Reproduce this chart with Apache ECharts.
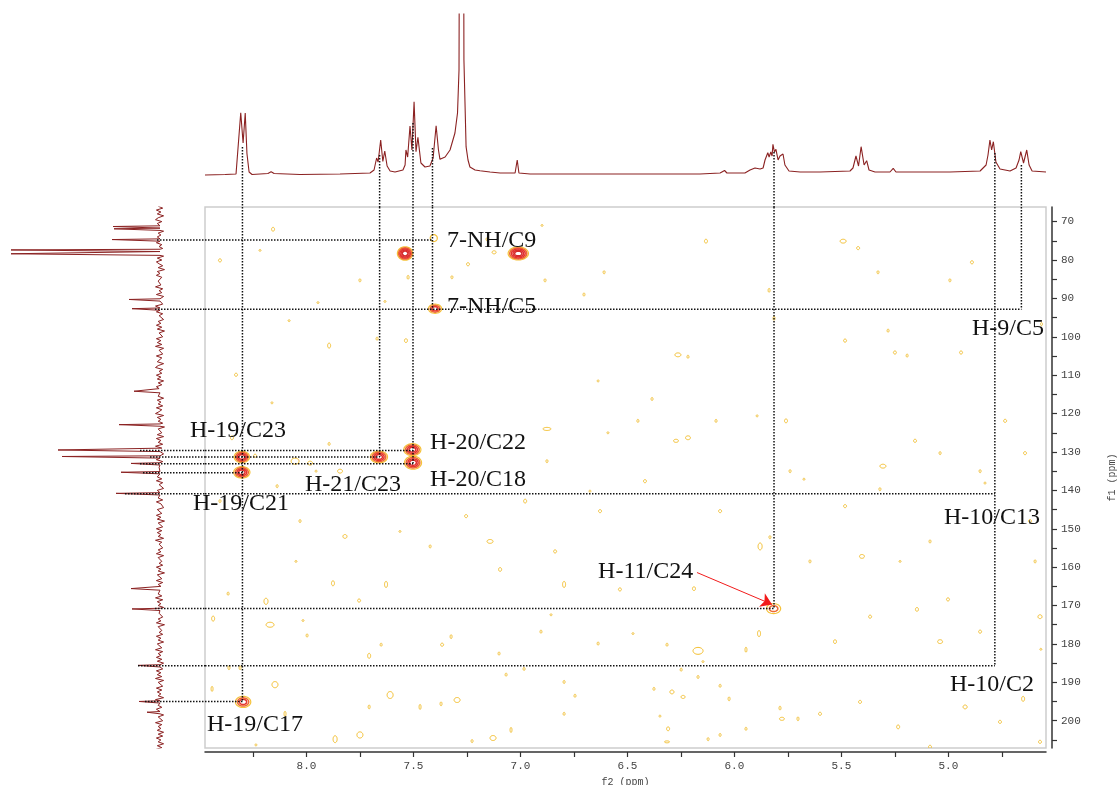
<!DOCTYPE html>
<html><head><meta charset="utf-8">
<script src="https://cdn.jsdelivr.net/npm/echarts@6/dist/echarts.min.js"></script>
<style>html,body{margin:0;padding:0;background:#fff}#c{width:1118px;height:785px}</style>
</head><body><div id="c"></div>
<script>
// ---------- axis ranges & ticks ----------
const f2Range = [4.544, 8.474];      // 1H (ppm)
const f1Range = [66.2, 207.1];       // 13C (ppm)
const xTicks = [8.25, 8.0, 7.75, 7.5, 7.25, 7.0, 6.75, 6.5, 6.25, 6.0, 5.75, 5.5, 5.25, 5.0, 4.75];
const xTickLabels = [8.0, 7.5, 7.0, 6.5, 6.0, 5.5, 5.0];
const yTicks = [70,75,80,85,90,95,100,105,110,115,120,125,130,135,140,145,150,155,160,165,170,175,180,185,190,195,200,205];
const yTickLabels = [70,80,90,100,110,120,130,140,150,160,170,180,190,200];

// ---------- 1H projection trace [ppm, intensity] ----------
const h1Trace = [
[8.474,-1.5],[8.380,-1],[8.329,-0.5],[8.320,1.5],[8.307,60.7],[8.296,30.5],[8.286,60.5],[8.278,20],[8.268,1.5],[8.254,-1],
[8.180,0],[8.165,1.7],[8.151,0],[8.030,-1],[7.843,-0.5],[7.703,0.5],[7.684,3.5],[7.672,15.5],[7.665,11.5],[7.653,33.5],
[7.643,12],[7.634,22.5],[7.623,7.5],[7.609,2.5],[7.586,1.5],[7.549,3.5],[7.539,8.5],[7.535,23.5],[7.527,16.5],[7.516,47.5],
[7.507,23.5],[7.497,71.8],[7.488,21.8],[7.479,36.2],[7.465,10.5],[7.446,6.5],[7.423,7.5],[7.408,15.5],[7.394,47.8],[7.383,23.5],
[7.376,14.2],[7.352,16.5],[7.329,23.5],[7.306,40.5],[7.294,60.5],[7.287,103.5],[7.282,500],[7.268,500],[7.264,113.5],[7.254,26.8],
[7.245,13.5],[7.236,6.5],[7.212,3.5],[7.189,2.8],[7.142,1.5],[7.095,0.5],[7.025,0.5],[7.015,13.5],[7.007,0.5],[6.955,-0.5],
[6.628,-0.5],[6.161,-0.5],[6.067,0.5],[6.046,3],[6.035,0.5],[5.951,0.5],[5.927,3.5],[5.904,5.5],[5.880,4.5],[5.866,5.5],
[5.857,13.5],[5.844,20.8],[5.838,16.5],[5.830,21.5],[5.824,17.5],[5.820,29.2],[5.813,21.5],[5.806,24.2],[5.796,13.5],[5.787,17.5],
[5.773,19.5],[5.764,8.5],[5.756,10.2],[5.745,2.5],[5.693,1.5],[5.600,1.5],[5.460,2.5],[5.446,5.5],[5.432,17.5],[5.420,7.5],
[5.408,26.8],[5.394,8.5],[5.382,12.8],[5.371,3.5],[5.343,1.5],[5.273,1.5],[5.258,5.2],[5.245,1.5],[4.993,1.5],[4.852,2.5],
[4.824,8.5],[4.815,18.5],[4.806,33.5],[4.798,23.5],[4.790,31.8],[4.778,11.5],[4.759,4.5],[4.712,2.5],[4.684,5.5],[4.670,13.5],
[4.662,21.8],[4.649,10.5],[4.634,23.5],[4.623,8.5],[4.609,2.5],[4.544,1.5]
];

// ---------- 13C projection: peaks [ppm, intensity] and baseline noise (0.5 ppm steps from 66 ppm) ----------
const c13Peaks = [
[71.4,47],[72.0,46],[74.8,48],[77.5,149],[78.5,149],[90.4,31],[92.8,28],[114.3,26],[123.0,41],[129.6,102],
[131.3,98],[133.1,29],[135.4,39],[140.9,44],[165.7,29],[171.0,28],[185.7,22],[195.1,21],[197.9,13]
];
const c13Noise = [
2,-3,4,-1,3,-4,2,5,-2,3,-3,1,4,-4,2,-1,3,-5,2,4,-2,1,-3,5,-1,2,-4,3,-2,4,1,-3,2,-5,3,0,4,-2,-4,2,
3,-1,5,-3,1,-2,4,-4,2,3,-1,-3,5,2,-2,4,-3,1,3,-4,2,-1,4,-2,3,-5,1,2,-3,4,-1,3,-2,5,-4,1,2,-3,4,-2,
-1,3,-4,2,5,-3,1,-2,4,-1,3,-4,2,-2,4,1,-3,5,-2,2,-4,3,-1,2,-3,4,-2,1,5,-4,3,-1,2,-3,4,-5,2,1,-2,3,
-4,4,-1,2,-3,5,-2,1,3,-4,2,-1,4,-3,6,-2,1,3,-4,2,-1,3,-2,4,-3,1,2,-4,3,-1,5,-2,2,-3,4,-1,1,-4,3,2,
-2,4,-1,3,-5,2,1,-3,4,-2,3,-1,2,-4,5,-2,1,3,-3,2,-1,4,-4,2,3,-2,1,-3,4,-1,2,-5,3,1,-2,4,-3,2,-1,3,
-4,1,2,-2,5,-3,3,-1,2,-4,4,-2,1,3,-3,2,-1,4,-5,2,3,-2,1,-3,4,-1,2,-4,3,1,-2,5,-3,2,-1,4,-2,3,-4,1,
2,-3,4,-1,3,-2,5,-4,2,1,-3,4,-2,3,-1,2,-4,5,-3,1,2,-2,4,-1,3,-4,2,1,-3,5,-2,2,-1,3,-4,2,
-3,4,-1,2,-4,3,-2,5,-1,3,-4,2,-3,1,4,-2,3,-5,2,-1,4,-3,2,1,-4,3
];

// ---------- HMBC cross peaks [f2 ppm, f1 ppm, width f2, width f1, contour levels] ----------
const crossPeaks = [
[7.539,78.3,0.072,3.5,5],[7.010,78.3,0.095,3.4,5],[8.302,131.3,0.072,3.0,4],[7.661,131.3,0.080,3.1,4],
[7.505,129.4,0.080,3.1,4],[7.502,132.8,0.080,3.4,4],[8.302,135.3,0.076,3.0,4],[7.399,92.7,0.062,2.4,3],
[7.405,74.3,0.033,1.8,1],[5.817,170.8,0.066,2.6,2],[8.296,195.1,0.072,2.9,3]
];
// weak noise contours [f2 ppm, f1 ppm, width f2, width f1]
const noiseContours = [
[8.156,72.0,0.014,1.0],[7.876,164.2,0.014,1.3],[7.628,164.5,0.014,1.6],[6.796,164.5,0.014,1.6],[6.535,165.8,0.014,0.8],
[6.189,165.6,0.014,1.0],[7.754,168.7,0.014,0.8],[8.436,173.4,0.014,1.3],[8.170,175.0,0.037,1.3],[8.016,173.9,0.009,0.5],
[7.997,177.8,0.009,0.8],[6.857,172.4,0.009,0.5],[5.885,177.3,0.014,1.6],[5.946,181.5,0.009,1.3],[6.170,181.8,0.047,1.8],
[7.324,178.1,0.009,1.0],[7.366,180.2,0.014,0.8],[7.651,180.2,0.009,0.8],[7.707,183.1,0.014,1.3],[6.637,179.9,0.009,0.8],
[6.315,180.2,0.009,0.8],[6.904,176.8,0.009,0.8],[6.474,177.3,0.009,0.5],[7.100,182.5,0.009,0.8],[6.147,184.6,0.009,0.5],
[6.249,186.7,0.009,0.8],[6.170,188.6,0.009,0.8],[8.362,186.2,0.009,1.0],[8.310,186.2,0.009,1.0],[6.983,186.5,0.009,0.8],
[7.067,188.0,0.009,0.8],[8.147,190.6,0.028,1.6],[8.441,191.7,0.009,1.3],[6.796,189.9,0.009,0.8],[7.609,193.3,0.028,1.8],
[6.292,192.5,0.019,1.0],[6.240,193.8,0.019,0.8],[6.376,191.7,0.009,0.8],[6.067,190.9,0.009,0.8],[6.745,193.5,0.009,0.8],
[6.025,194.3,0.009,1.0],[7.296,194.6,0.028,1.3],[7.371,195.6,0.009,1.0],[7.469,196.4,0.009,1.3],[7.707,196.4,0.009,1.0],
[5.787,196.7,0.009,1.0],[5.778,199.5,0.023,0.8],[5.703,199.5,0.009,1.0],[8.100,198.2,0.009,1.3],[6.796,198.2,0.009,0.8],
[6.348,198.8,0.009,0.5],[7.044,202.4,0.009,1.3],[6.310,202.1,0.014,1.0],[5.946,202.1,0.009,0.8],[6.067,203.7,0.009,0.8],
[7.750,203.7,0.028,1.6],[7.866,204.8,0.019,1.8],[7.128,204.5,0.028,1.3],[6.123,204.8,0.009,0.8],[6.315,205.5,0.023,0.5],
[7.226,205.3,0.009,0.8],[8.236,206.3,0.009,0.5],[5.530,179.4,0.014,1.0],[5.366,172.9,0.014,0.8],[5.147,171.0,0.014,1.0],
[5.039,179.4,0.023,1.0],[4.852,176.8,0.014,0.8],[4.572,172.9,0.019,1.0],[5.413,195.1,0.014,0.8],[5.235,201.6,0.014,1.0],
[4.922,196.4,0.019,1.0],[4.759,200.3,0.014,0.8],[4.572,205.5,0.014,0.8],[5.600,198.2,0.014,0.8],[5.086,206.8,0.014,0.8],
[4.651,194.3,0.014,1.3],[6.133,75.1,0.014,1.0],[5.492,75.1,0.028,1.0],[5.422,76.9,0.014,0.8],[4.890,80.6,0.014,0.8],
[7.156,74.6,0.009,0.8],[7.320,84.5,0.009,0.8],[6.885,85.3,0.009,0.8],[6.703,89.0,0.009,0.8],[6.609,83.2,0.009,0.8],
[5.838,87.9,0.009,1.0],[5.815,95.2,0.009,1.0],[5.483,101.0,0.014,0.8],[5.329,83.2,0.009,0.8],[5.282,98.4,0.009,0.8],
[5.250,104.1,0.014,0.8],[5.193,104.9,0.009,0.8],[4.993,85.3,0.009,0.8],[4.941,104.1,0.014,0.8],[7.894,102.3,0.014,1.3],
[7.670,100.5,0.009,0.8],[7.535,101.0,0.014,1.0],[8.081,95.8,0.009,0.5],[7.750,85.3,0.009,0.8],[8.404,80.1,0.014,0.8],
[8.217,77.5,0.009,0.5],[8.329,109.9,0.014,0.8],[8.161,117.2,0.009,0.5],[8.348,126.3,0.014,1.0],[8.240,131.0,0.014,0.8],
[6.637,111.5,0.009,0.5],[6.385,116.2,0.009,0.8],[6.264,104.7,0.028,1.0],[6.217,105.2,0.009,0.8],[6.451,121.9,0.009,0.8],
[6.591,125.0,0.009,0.5],[6.217,126.3,0.023,1.0],[6.086,121.9,0.009,0.8],[5.894,120.6,0.009,0.5],[5.759,121.9,0.014,1.0],
[5.740,135.0,0.009,0.8],[5.675,137.1,0.009,0.5],[5.834,152.2,0.009,0.8],[5.483,144.1,0.014,0.8],[5.306,133.7,0.028,1.0],
[5.320,139.7,0.009,0.8],[5.156,127.1,0.014,0.8],[5.039,130.3,0.009,0.8],[4.852,135.0,0.009,0.8],[4.735,121.9,0.014,0.8],
[4.829,138.1,0.009,0.5],[4.642,130.3,0.014,0.8],[4.619,148.0,0.014,0.8],[4.595,158.5,0.009,0.8],[5.002,168.4,0.014,0.8],
[5.086,153.3,0.009,0.8],[5.226,158.5,0.009,0.5],[5.404,157.2,0.023,1.0],[5.647,158.5,0.009,0.8],[5.880,154.6,0.019,1.8],
[6.067,145.4,0.014,0.8],[6.273,127.1,0.023,0.8],[6.418,137.6,0.014,0.8],[6.628,145.4,0.014,0.8],[6.675,140.2,0.009,0.5],
[6.838,155.9,0.014,0.8],[6.978,142.8,0.014,1.0],[7.142,153.3,0.028,1.0],[7.095,160.6,0.014,1.0],[7.254,146.7,0.014,0.8],
[7.422,154.6,0.009,0.8],[7.563,150.7,0.009,0.5],[7.820,152.0,0.019,1.0],[8.049,158.5,0.009,0.5],[7.843,135.0,0.023,1.0],
[7.955,135.0,0.009,0.5],[8.137,138.9,0.009,0.8],[8.404,142.8,0.009,0.8],[8.030,148.0,0.009,0.8],[7.946,91.1,0.009,0.5],
[8.366,166.9,0.009,0.8],[8.189,168.9,0.019,1.6],[8.053,132.4,0.037,1.6],[7.983,132.9,0.023,1.0],[7.894,127.9,0.009,0.8],
[6.876,124.0,0.037,0.8],[6.876,132.4,0.009,0.8],[7.245,81.1,0.014,0.8],[7.123,78.0,0.019,0.8],[7.525,84.5,0.009,1.0],
[7.633,90.8,0.009,0.5],[6.899,71.0,0.009,0.5],[4.565,96.7,0.009,0.8],[4.568,181.4,0.009,0.5]
];

// ---------- correlation guide lines ----------
// horizontal: [f1 ppm, f2 ppm where it stops, 13C intensity where it starts]
const hGuides = [[74.8,7.411,3],[92.8,4.659,5],[129.6,7.502,20],[131.3,7.658,10],[133.1,7.502,20],
                 [135.4,8.299,17],[140.9,4.783,35],[170.8,5.815,5],[185.7,4.783,22],[195.0,8.299,15]];
// vertical: [f2 ppm, f1 ppm where it stops, 1H intensity where it starts]
const vGuides = [[8.299,195.0,26.5],[7.658,131.3,18.5],[7.502,133.1,50.5],[7.411,92.8,25.5],
                 [5.815,170.8,21.5],[4.783,185.7,20.5],[4.659,92.8,8.5]];

// ---------- annotation labels [text, f2 ppm (left edge), f1 ppm (centre)] ----------
const labels = [
['7-NH/C9',7.343,74.9],['7-NH/C5',7.343,92.1],['H-9/C5',4.890,97.9],['H-19/C23',8.544,124.5],
['H-20/C22',7.422,127.7],['H-21/C23',8.007,138.4],['H-20/C18',7.422,137.1],['H-19/C21',8.530,143.6],
['H-10/C13',5.021,147.0],['H-11/C24',6.637,161.1],['H-10/C2',4.993,190.6],['H-19/C17',8.465,201.1]
];
const arrowFrom = [6.175,161.4], arrowTo = [5.824,169.7];

// ---------- build ----------
const TOP_MIN = -33.5, TOP_MAX = 159.5, LEFT_MIN = -45, LEFT_MAX = 160;
const levelColors = ['#F5C23A','#EE6A32','#E53530','#E0302E','#D42A2A'];
const noiseColor = '#F4BE2A';

const c13Trace = [];
c13Noise.forEach((n, i) => {
  const p = 66 + i * 0.5;
  if (p > 207.6) return;
  if (c13Peaks.some(k => Math.abs(k[0] - p) < 0.45)) return;
  c13Trace.push([n * 0.9, p]);
});
c13Peaks.forEach(k => {
  c13Trace.push([0, k[0] - 0.3], [k[1], k[0] - 0.12], [k[1], k[0] + 0.12], [0, k[0] + 0.3]);
});
c13Trace.sort((a, b) => a[1] - b[1]);

const contourData = noiseContours.map(d => [d[0], d[1], d[2], d[3], 0])
  .concat(crossPeaks.map(d => [d[0], d[1], d[2], d[3], d[4]]));

function ellipsePts(cx, cy, rx, ry) {
  const p = [];
  for (let k = 0; k < 32; k++) { const a = k / 32 * Math.PI * 2; p.push([cx + rx * Math.cos(a), cy + ry * Math.sin(a)]); }
  return p;
}

const dotStyle = { color: '#111', width: 1.5, type: [1.5, 1.5] };
const series = [];

series.push({
  type: 'custom', xAxisIndex: 0, yAxisIndex: 0, clip: true, z: 2, silent: true,
  data: contourData,
  renderItem: function (params, api) {
    const c = api.coord([api.value(0), api.value(1)]);
    const s = api.size([api.value(2), api.value(3)]);
    const rx = Math.max(Math.abs(s[0]) / 2, 0.9), ry = Math.max(Math.abs(s[1]) / 2, 0.9);
    const n = api.value(4);
    const children = [];
    if (n === 0) {
      children.push({ type: 'polygon', shape: { points: ellipsePts(c[0], c[1], rx, ry) },
        style: { fill: 'none', stroke: noiseColor, lineWidth: 1 } });
    } else {
      for (let i = 0; i < n; i++) {
        const f = 1 - i * (0.8 / n);
        children.push({ type: 'polygon', shape: { points: ellipsePts(c[0], c[1], rx * f, ry * f) },
          style: { fill: 'none', stroke: levelColors[Math.min(i, levelColors.length - 1)], lineWidth: i === 0 ? 1.2 : 1.5 } });
      }
    }
    return { type: 'group', children: children };
  }
});

hGuides.forEach(g => {
  series.push({ type: 'line', xAxisIndex: 2, yAxisIndex: 2, z: 4, symbol: 'none', silent: true,
    data: [[g[2], g[0]], [LEFT_MIN, g[0]]], lineStyle: dotStyle });
  series.push({ type: 'line', xAxisIndex: 0, yAxisIndex: 0, z: 4, symbol: 'none', silent: true,
    data: [[f2Range[1], g[0]], [g[1], g[0]]], lineStyle: dotStyle });
});
vGuides.forEach(g => {
  series.push({ type: 'line', xAxisIndex: 1, yAxisIndex: 1, z: 4, symbol: 'none', silent: true,
    data: [[g[0], g[2]], [g[0], TOP_MIN]], lineStyle: dotStyle });
  series.push({ type: 'line', xAxisIndex: 0, yAxisIndex: 0, z: 4, symbol: 'none', silent: true,
    data: [[g[0], f1Range[0]], [g[0], g[1]]], lineStyle: dotStyle });
});

series.push({ type: 'line', xAxisIndex: 1, yAxisIndex: 1, z: 3, symbol: 'none', silent: true, clip: true,
  data: h1Trace, lineStyle: { color: '#8B2222', width: 1.1 } });
series.push({ type: 'line', xAxisIndex: 2, yAxisIndex: 2, z: 3, symbol: 'none', silent: true, clip: true,
  data: c13Trace, lineStyle: { color: '#8B2222', width: 1 } });

series.push({ type: 'line', xAxisIndex: 0, yAxisIndex: 0, z: 5, data: [], symbol: 'none',
  markLine: { silent: true, symbol: ['none', 'arrow'], symbolSize: 11, label: { show: false },
    lineStyle: { color: '#F21B1B', width: 1, type: 'solid' },
    data: [[{ coord: arrowFrom }, { coord: arrowTo }]] } });

const tickFont = { fontFamily: 'Liberation Mono', fontSize: 11, color: '#444' };

const option = {
  animation: false,
  backgroundColor: '#fff',
  grid: [
    { left: 205, top: 207, width: 841, height: 541, show: true, borderColor: '#cdcdcd', borderWidth: 1.5,
      backgroundColor: 'transparent', containLabel: false, outerBoundsMode: 'none' },
    { left: 205, top: 14, width: 841, height: 193, containLabel: false, outerBoundsMode: 'none' },
    { left: 0, top: 207, width: 205, height: 541, containLabel: false, outerBoundsMode: 'none' }
  ],
  xAxis: [
    { gridIndex: 0, type: 'value', min: f2Range[0], max: f2Range[1], inverse: true, position: 'bottom', offset: 4,
      splitLine: { show: false },
      axisLine: { show: true, onZero: false, lineStyle: { color: '#333', width: 1.5 } },
      axisTick: { show: true, customValues: xTicks, length: 5, lineStyle: { color: '#333', width: 1.2 } },
      axisLabel: { show: true, customValues: xTickLabels, formatter: v => Number(v).toFixed(1), margin: 9, ...tickFont },
      name: 'f2 (ppm)', nameLocation: 'middle', nameGap: 21,
      nameTextStyle: { fontFamily: 'Liberation Mono', fontSize: 10, color: '#444' } },
    { gridIndex: 1, type: 'value', min: f2Range[0], max: f2Range[1], inverse: true, show: false },
    { gridIndex: 2, type: 'value', min: LEFT_MIN, max: LEFT_MAX, inverse: true, show: false }
  ],
  yAxis: [
    { gridIndex: 0, type: 'value', min: f1Range[0], max: f1Range[1], inverse: true, position: 'right', offset: 6,
      splitLine: { show: false },
      axisLine: { show: true, onZero: false, lineStyle: { color: '#333', width: 1.5 } },
      axisTick: { show: true, customValues: yTicks, length: 5, lineStyle: { color: '#333', width: 1.2 } },
      axisLabel: { show: true, customValues: yTickLabels, margin: 9, ...tickFont },
      name: 'f1 (ppm)', nameLocation: 'middle', nameGap: 55, nameRotate: 90,
      nameTextStyle: { fontFamily: 'Liberation Mono', fontSize: 10, color: '#444' } },
    { gridIndex: 1, type: 'value', min: TOP_MIN, max: TOP_MAX, show: false },
    { gridIndex: 2, type: 'value', min: f1Range[0], max: f1Range[1], inverse: true, show: false }
  ],
  series: series
};

const chart = echarts.init(document.getElementById('c'));
chart.setOption(option);

const textEls = labels.map(l => {
  const p = chart.convertToPixel({ xAxisIndex: 0, yAxisIndex: 0 }, [l[1], l[2]]);
  return { type: 'text', x: p[0], y: p[1], z: 100, silent: true,
    style: { text: l[0], font: '24px "Liberation Serif"', fill: '#111', align: 'left', verticalAlign: 'middle',
             textAlign: 'left', textVerticalAlign: 'middle' } };
});
chart.setOption({ graphic: textEls });
</script>
</body></html>
